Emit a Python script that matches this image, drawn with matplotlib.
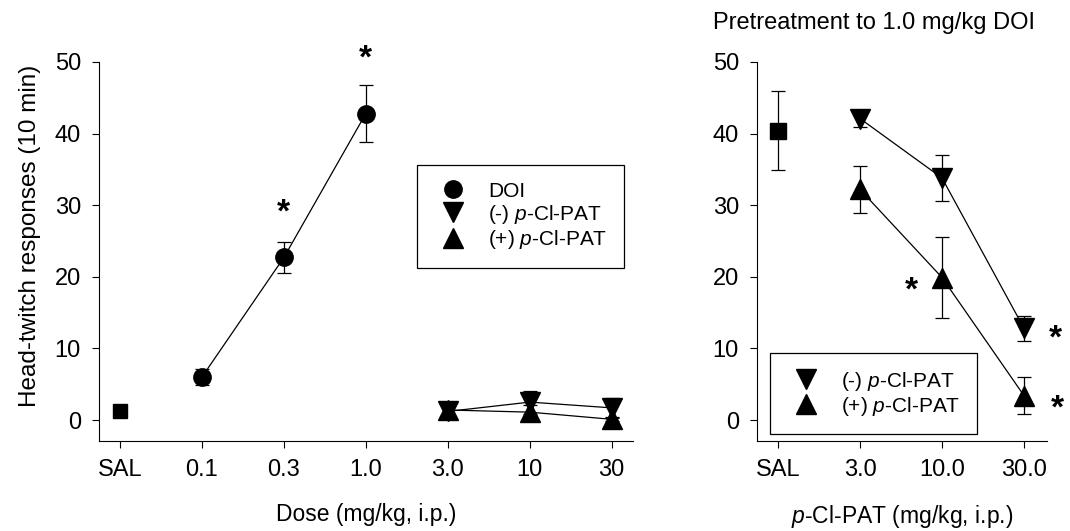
import matplotlib
matplotlib.use('Agg')
import matplotlib.pyplot as plt
from matplotlib.lines import Line2D

plt.rcParams['font.family'] = ['Liberation Sans', 'DejaVu Sans']
plt.rcParams['mathtext.fontset'] = 'custom'
plt.rcParams['mathtext.rm'] = 'Liberation Sans'
plt.rcParams['mathtext.it'] = 'Liberation Sans:italic'

# ---- left panel data ----
dose_labels = ['SAL', '0.1', '0.3', '1.0', '3.0', '10', '30']
sal_y, sal_err = 1.3, 0.0
doi_x = [1, 2, 3]
doi_y = [6.0, 22.7, 42.8]
doi_err = [1.1, 2.1, 4.0]
pat_x = [4, 5, 6]
neg_y = [1.2, 2.5, 1.7]
neg_err = [1.0, 1.6, 1.4]
pos_y = [1.4, 1.1, 0.1]
pos_err = [1.0, 1.0, 0.3]
left_stars = [(2, 30.2), (3, 51.7)]

# ---- right panel data ----
pre_labels = ['SAL', '3.0', '10.0', '30.0']
pre_sal_y, pre_sal_err = 40.4, 5.5
pre_x = [1, 2, 3]
pre_neg_y = [42.1, 33.8, 12.8]
pre_neg_err = [1.2, 3.2, 1.7]
pre_pos_y = [32.2, 19.9, 3.4]
pre_pos_err = [3.3, 5.7, 2.6]
right_stars = [(1.63, 19.4), (3.38, 12.7), (3.41, 2.9)]

neg_label = r'(-) $\it{p}$-Cl-PAT'
pos_label = r'(+) $\it{p}$-Cl-PAT'

fig = plt.figure(figsize=(10.7, 5.31), dpi=100)
ax1 = fig.add_axes([99/1070, 1-441/531, (633-99)/1070, (441-62)/531])
ax2 = fig.add_axes([757/1070, 1-441/531, (1047-757)/1070, (441-62)/531])

eb = dict(color='black', ecolor='black', elinewidth=0.9, capsize=5, capthick=0.9,
          linewidth=0.9, markeredgecolor='black', markerfacecolor='black')

# left
ax1.errorbar([0], [sal_y], yerr=[sal_err], fmt='s', markersize=10, **eb)
ax1.errorbar(doi_x, doi_y, yerr=doi_err, fmt='o-', markersize=12.5, **eb)
ax1.errorbar(pat_x, neg_y, yerr=neg_err, fmt='v-', markersize=14, **eb)
ax1.errorbar(pat_x, pos_y, yerr=pos_err, fmt='^-', markersize=14, **eb)

# right
ax2.errorbar([0], [pre_sal_y], yerr=[pre_sal_err], fmt='s', markersize=11, **eb)
ax2.errorbar(pre_x, pre_neg_y, yerr=pre_neg_err, fmt='v-', markersize=14, **eb)
ax2.errorbar(pre_x, pre_pos_y, yerr=pre_pos_err, fmt='^-', markersize=14, **eb)

for ax, stars in ((ax1, left_stars), (ax2, right_stars)):
    for sx, sy in stars:
        ax.annotate('*', (sx, sy), xytext=(0, -13), textcoords='offset points',
                    ha='center', va='baseline', fontsize=24, fontweight='bold',
                    annotation_clip=False)

ax1.set_xlim(-0.256, 6.26)
ax1.set_xticks(range(len(dose_labels)))
ax1.set_xticklabels(dose_labels)
ax2.set_xlim(-0.256, 3.28)
ax2.set_xticks(range(len(pre_labels)))
ax2.set_xticklabels(pre_labels)

for ax in (ax1, ax2):
    ax.set_ylim(-2.93, 50)
    ax.set_yticks([0, 10, 20, 30, 40, 50])
    ax.spines['top'].set_visible(False)
    ax.spines['right'].set_visible(False)
    for s in ('left', 'bottom'):
        ax.spines[s].set_linewidth(0.8)
    ax.tick_params(direction='out', length=5, width=0.8, labelsize=17, pad=8)

ax1.set_ylabel('Head-twitch responses (10 min)', fontsize=17.5)
ax1.yaxis.set_label_coords(-0.108, 0.54)
ax1.set_xlabel('Dose (mg/kg, i.p.)', fontsize=16.5, labelpad=16)
ax2.set_xlabel(r'$\it{p}$-Cl-PAT (mg/kg, i.p.)', fontsize=16.5, labelpad=16)
fig.text(713/1070, 1-23/531, 'Pretreatment to 1.0 mg/kg DOI', fontsize=17,
         ha='left', va='center')

def mk(m, ms):
    return Line2D([], [], linestyle='none', marker=m, markersize=ms,
                  color='black')

leg_kw = dict(fontsize=15, frameon=True, fancybox=False, framealpha=1,
              edgecolor='black', borderpad=0.8, handlelength=1.9,
              handletextpad=0.7, labelspacing=0.1, borderaxespad=0,
              loc='upper left', bbox_transform=fig.transFigure)
l1 = ax1.legend([mk('o', 12.5), mk('v', 14), mk('^', 14)],
                ['DOI', neg_label, pos_label],
                bbox_to_anchor=(417/1070, 1-165/531), **leg_kw)
l1.get_frame().set_linewidth(0.9)
l2 = ax2.legend([mk('v', 14), mk('^', 14)], [neg_label, pos_label],
                bbox_to_anchor=(770/1070, 1-353/531), **leg_kw)
l2.get_frame().set_linewidth(0.9)

fig.savefig('out.png', dpi=100)
